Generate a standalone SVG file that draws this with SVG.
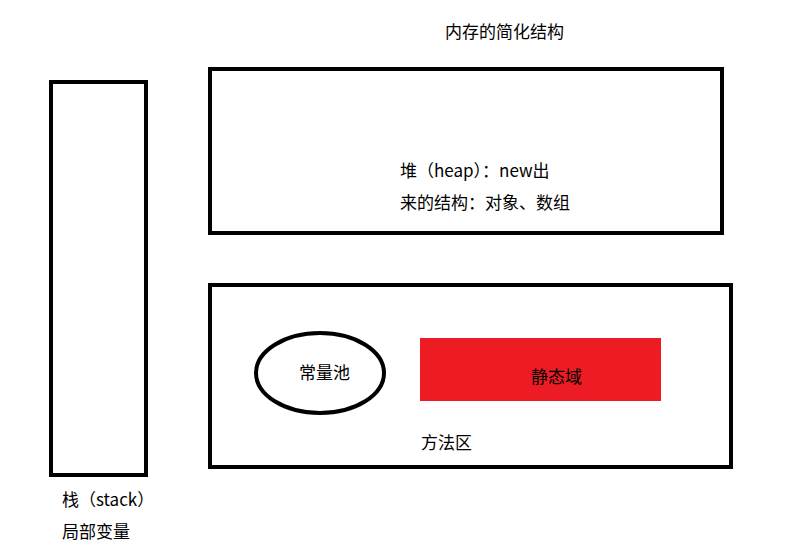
<svg xmlns="http://www.w3.org/2000/svg" width="805" height="556" viewBox="0 0 805 556">
<style>
.b{fill:none;stroke:#000;stroke-width:4}
text{font-family:"Microsoft YaHei","Noto Sans CJK SC",sans-serif;font-size:17px;fill:#000}
</style>
<rect width="805" height="556" fill="#fff"/>
<text x="445" y="38">内存的简化结构</text>
<g id="stack"><rect class="b" x="51" y="82" width="95" height="393"/>
<text x="62" y="506">栈（stack）</text><text x="62" y="538">局部变量</text></g>
<g id="heap"><rect class="b" x="210" y="69" width="512" height="164"/>
<text x="400" y="177">堆（heap）：new出</text><text x="400" y="209">来的结构：对象、数组</text></g>
<g id="method"><rect class="b" x="210" y="285" width="521" height="182"/>
<text x="421" y="449">方法区</text></g>
<g id="pool"><ellipse class="b" cx="320" cy="373" rx="64" ry="40"/><text x="299" y="379">常量池</text></g>
<g id="static"><rect x="420" y="338" width="241" height="63" fill="#ed1c24"/><text x="531" y="383">静态域</text></g>
<g id="connectors"/>
</svg>
